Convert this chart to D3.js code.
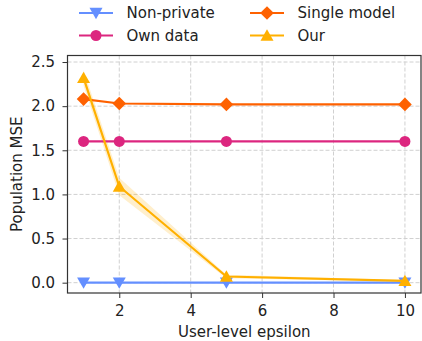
<!DOCTYPE html>
<html>
<head>
<meta charset="utf-8">
<script src="https://cdn.jsdelivr.net/npm/d3@7"></script>
<style>
  body { margin:0; background:#fff; }
  text { font-family:"DejaVu Sans", sans-serif; fill:#222; }
</style>
</head>
<body>
<div id="chart"></div>
<script>
// chart data
const epsilons   = [1, 2, 5, 10];
const nonPrivate = [0, 0, 0, 0];
const ownData    = [1.6, 1.6, 1.6, 1.6];
const singleModel= [2.08, 2.03, 2.02, 2.02];
const ourMean    = [2.32, 1.09, 0.07, 0.02];
const ourLow     = [2.23, 0.99, 0.05, 0.01];
const ourHigh    = [2.41, 1.19, 0.09, 0.03];
const xTicks = [2, 4, 6, 8, 10];
const yTicks = [0, 0.5, 1.0, 1.5, 2.0, 2.5];

const SERIES = [
  { name:"Non-private",  values:nonPrivate,  color:"#648FFF", marker:"tri-down" },
  { name:"Own data",     values:ownData,     color:"#DC267F", marker:"circle" },
  { name:"Single model", values:singleModel, color:"#FE6100", marker:"diamond" },
  { name:"Our",          values:ourMean,     color:"#FFB000", marker:"tri-up" },
];

const FS = "15px";
const W = 422, H = 341;
const margin = { top:55.5, right:1, bottom:48, left:67.5 };
const innerW = W - margin.left - margin.right;
const innerH = H - margin.top - margin.bottom;

const svg = d3.select("#chart").append("svg")
  .attr("width", W).attr("height", H);

const g = svg.append("g")
  .attr("transform", `translate(${margin.left},${margin.top})`);

const x = d3.scaleLinear().domain([0.55, 10.45]).range([0, innerW]);
const y = d3.scaleLinear().domain([-0.117, 2.574]).range([innerH, 0]);

// grid
g.append("g").selectAll("line")
  .data(xTicks).enter().append("line")
  .attr("x1", d => x(d)).attr("x2", d => x(d))
  .attr("y1", 0).attr("y2", innerH)
  .attr("stroke", "#d0d0d0").attr("stroke-width", 1)
  .attr("stroke-dasharray", "4,2");
g.append("g").selectAll("line")
  .data(yTicks).enter().append("line")
  .attr("y1", d => y(d)).attr("y2", d => y(d))
  .attr("x1", 0).attr("x2", innerW)
  .attr("stroke", "#d0d0d0").attr("stroke-width", 1)
  .attr("stroke-dasharray", "4,2");

// axes
const xAxis = g.append("g")
  .attr("transform", `translate(0,${innerH})`)
  .call(d3.axisBottom(x).tickValues(xTicks).tickFormat(d3.format("d")).tickSize(5).tickPadding(7.5));
const yAxis = g.append("g")
  .call(d3.axisLeft(y).tickValues(yTicks).tickFormat(d3.format(".1f")).tickSize(5).tickPadding(7.5));
[xAxis, yAxis].forEach(a => {
  a.select(".domain").remove();
  a.selectAll("line").attr("stroke", "#333");
  a.selectAll("text").style("font-size", FS).style("font-family", "DejaVu Sans").attr("fill", "#222");
});

// band for Our
const band = epsilons.map((e, i) => ({ x:e, lo:ourLow[i], hi:ourHigh[i] }));
g.append("path")
  .datum(band)
  .attr("d", d3.area().x(d => x(d.x)).y0(d => y(d.lo)).y1(d => y(d.hi)))
  .attr("fill", "#FFB000").attr("fill-opacity", 0.2);

function markerPath(type, s) {
  switch (type) {
    case "tri-down": return `M${-s},${-s*0.8}L${s},${-s*0.8}L0,${s*0.95}Z`;
    case "tri-up":   return `M${-s},${s*0.8}L${s},${s*0.8}L0,${-s*0.95}Z`;
    case "diamond":  return `M0,${-s*1.05}L${s*1.05},0L0,${s*1.05}L${-s*1.05},0Z`;
    default:         return d3.symbol(d3.symbolCircle, Math.PI * s * s)();
  }
}

const line = d3.line().x(d => x(d.x)).y(d => y(d.y));

SERIES.forEach(s => {
  const pts = epsilons.map((e, i) => ({ x:e, y:s.values[i] }));
  const sg = g.append("g");
  sg.append("path").datum(pts)
    .attr("d", line).attr("fill", "none")
    .attr("stroke", s.color).attr("stroke-width", 2.2);
  sg.selectAll("path.m").data(pts).enter().append("path")
    .attr("class", "m")
    .attr("transform", d => `translate(${x(d.x)},${y(d.y)})`)
    .attr("d", markerPath(s.marker, s.marker === "circle" ? 5.5 : 6.5))
    .attr("fill", s.color);
});

// frame
g.append("rect")
  .attr("width", innerW).attr("height", innerH)
  .attr("fill", "none").attr("stroke", "#333").attr("stroke-width", 1.2);

// axis labels
svg.append("text")
  .attr("x", margin.left + innerW / 2).attr("y", 337)
  .attr("text-anchor", "middle")
  .style("font-size", FS)
  .text("User-level epsilon");
svg.append("text")
  .attr("transform", `translate(21.5,${margin.top + innerH / 2}) rotate(-90)`)
  .attr("text-anchor", "middle")
  .style("font-size", FS)
  .text("Population MSE");

// legend
const legendPos = [
  { x:79,  y:13 }, { x:79,  y:35.5 },
  { x:250, y:13 }, { x:250, y:35.5 },
];
SERIES.forEach((s, i) => {
  const p = legendPos[i];
  const lg = svg.append("g").attr("transform", `translate(${p.x},${p.y})`);
  lg.append("line").attr("x1", 0).attr("x2", 34)
    .attr("stroke", s.color).attr("stroke-width", 2.2);
  lg.append("path").attr("transform", "translate(17,0)")
    .attr("d", markerPath(s.marker, s.marker === "circle" ? 5.5 : 6.5))
    .attr("fill", s.color);
  lg.append("text").attr("x", 47.5).attr("y", 5.3)
    .style("font-size", FS)
    .text(s.name);
});
</script>
</body>
</html>
